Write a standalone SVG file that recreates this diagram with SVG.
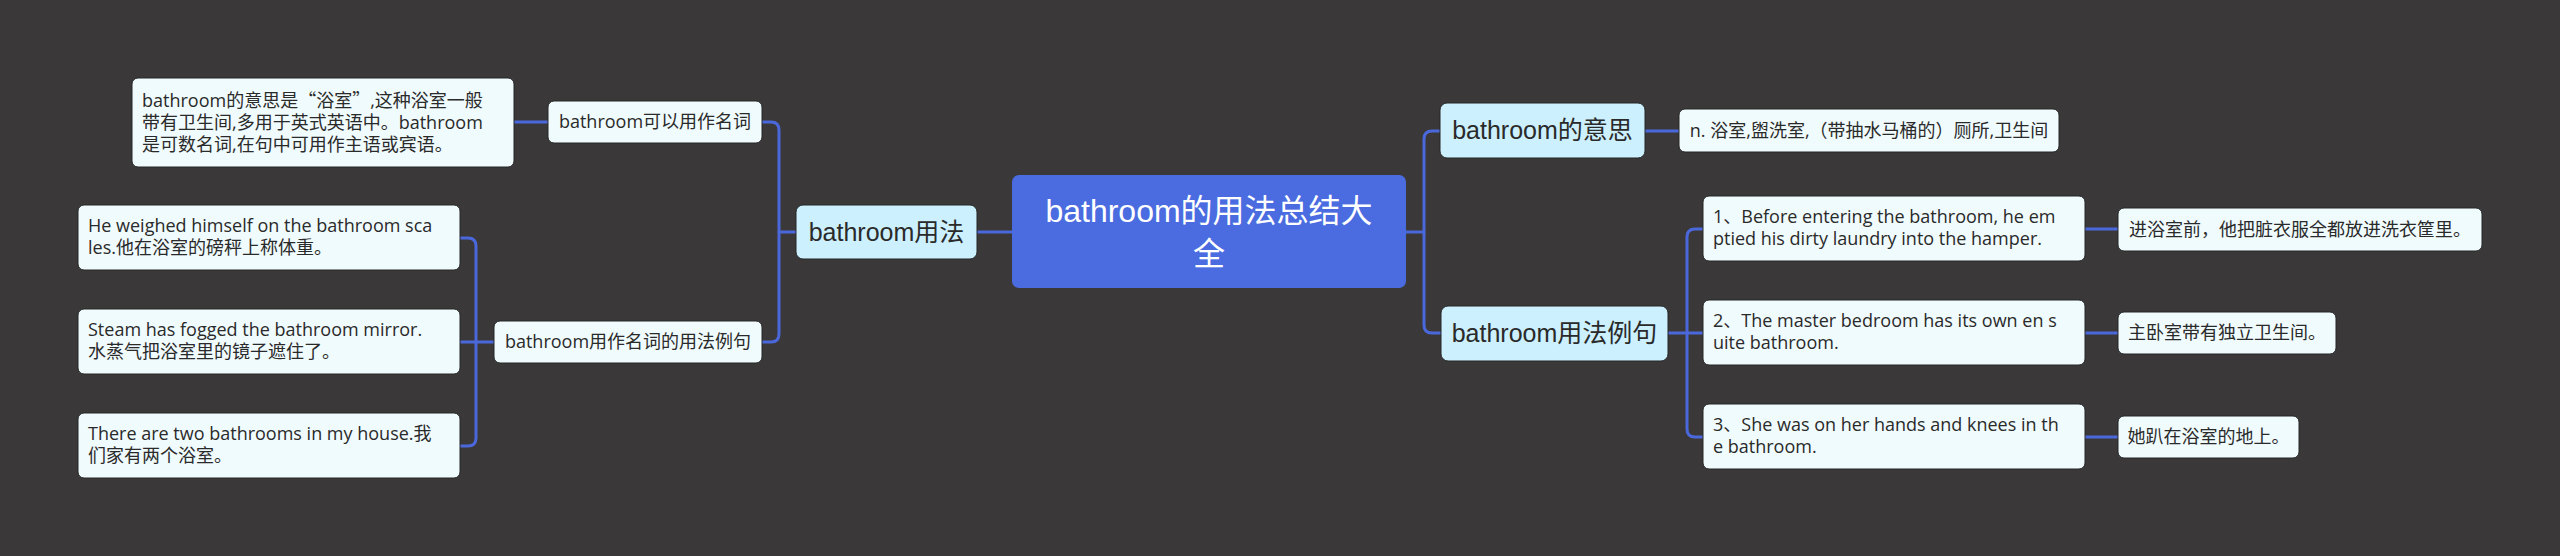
<svg xmlns="http://www.w3.org/2000/svg" width="2560" height="556" viewBox="0 0 2560 556">
<style>
.bg{fill:#3a3839}
.leaf{fill:#f0fbfd;stroke:#262626;stroke-width:1}
.l1{fill:#ccf0fd;stroke:#262626;stroke-width:1}
.root{fill:#4a6ce0}
.conn{fill:none;stroke:#4a68dc;stroke-width:3;stroke-linecap:round;stroke-linejoin:round}
text{font-family:"Liberation Sans","Noto Sans CJK SC",sans-serif;fill:#2a2a2a}
.t18{font-size:18px;font-family:"Open Sans","Noto Sans CJK SC",sans-serif}
.cjk{font-family:"Noto Sans CJK SC",sans-serif}
.t25{font-size:25px}
.t32{font-size:32px;fill:#ffffff}
.mid{text-anchor:middle}
</style>
<rect class="bg" x="0" y="0" width="2560" height="556"/>
<g id="connectors">
<path class="conn" d="M977,232 H1012"/>
<path class="conn" d="M796,232 H779"/>
<path class="conn" d="M762,122 H771 Q779,122 779,130 V334 Q779,342 771,342 H762"/>
<path class="conn" d="M514,122 H548"/>
<path class="conn" d="M494,342 H460"/>
<path class="conn" d="M460,238 H468 Q476,238 476,246 V438 Q476,446 468,446 H460"/>
<path class="conn" d="M1406,232 H1424"/>
<path class="conn" d="M1440,131 H1432 Q1424,131 1424,139 V325 Q1424,333 1432,333 H1441"/>
<path class="conn" d="M1645,131 H1679"/>
<path class="conn" d="M1668,333 H1703"/>
<path class="conn" d="M1703,229 H1695 Q1687,229 1687,237 V429 Q1687,437 1695,437 H1703"/>
<path class="conn" d="M2085,229 H2118"/>
<path class="conn" d="M2085,333 H2118"/>
<path class="conn" d="M2085,437 H2118"/>
</g>
<g id="root">
<rect class="root" x="1012" y="175" width="394" height="113" rx="7"/>
<text class="t32 mid" x="1209" y="222">bathroom的用法总结大</text>
<text class="t32 mid" x="1209" y="265">全</text>
</g>
<g id="usage">
<rect class="l1" x="796" y="205" width="181" height="54" rx="7"/>
<text class="t25 mid" x="886.5" y="241">bathroom用法</text>
</g>
<g id="noun">
<rect class="leaf" x="548" y="101" width="214" height="42" rx="6"/>
<text class="t18 mid" x="655" y="128">bathroom可以用作名词</text>
</g>
<g id="noun-detail">
<rect class="leaf" x="132" y="78" width="382" height="89" rx="6"/>
<text class="t18" x="142" y="107">bathroom的意思是<tspan class="cjk">“</tspan>浴室<tspan class="cjk">”</tspan>,这种浴室一般</text>
<text class="t18" x="142" y="129">带有卫生间,多用于英式英语中。bathroom</text>
<text class="t18" x="142" y="151">是可数名词,在句中可用作主语或宾语。</text>
</g>
<g id="examples">
<rect class="leaf" x="494" y="321" width="268" height="42" rx="6"/>
<text class="t18 mid" x="628" y="348">bathroom用作名词的用法例句</text>
</g>
<g id="ex-1">
<rect class="leaf" x="78" y="205" width="382" height="65" rx="6"/>
<text class="t18" x="88" y="232">He weighed himself on the bathroom sca</text>
<text class="t18" x="88" y="254">les.他在浴室的磅秤上称体重。</text>
</g>
<g id="ex-2">
<rect class="leaf" x="78" y="309" width="382" height="65" rx="6"/>
<text class="t18" x="88" y="336">Steam has fogged the bathroom mirror.</text>
<text class="t18" x="88" y="358">水蒸气把浴室里的镜子遮住了。</text>
</g>
<g id="ex-3">
<rect class="leaf" x="78" y="413" width="382" height="65" rx="6"/>
<text class="t18" x="88" y="440">There are two bathrooms in my house.我</text>
<text class="t18" x="88" y="462">们家有两个浴室。</text>
</g>
<g id="meaning">
<rect class="l1" x="1440" y="103" width="205" height="55" rx="7"/>
<text class="t25 mid" x="1542.5" y="139">bathroom的意思</text>
</g>
<g id="meaning-detail">
<rect class="leaf" x="1679" y="109" width="380" height="43" rx="6"/>
<text class="t18 mid" x="1869" y="137">n. 浴室,盥洗室,（带抽水马桶的）厕所,卫生间</text>
</g>
<g id="sentences">
<rect class="l1" x="1441" y="306" width="227" height="55" rx="7"/>
<text class="t25 mid" x="1554.5" y="342">bathroom用法例句</text>
</g>
<g id="s1">
<rect class="leaf" x="1703" y="196" width="382" height="65" rx="6"/>
<text class="t18" x="1713" y="223">1、Before entering the bathroom, he em</text>
<text class="t18" x="1713" y="245">ptied his dirty laundry into the hamper.</text>
</g>
<g id="s1-zh">
<rect class="leaf" x="2118" y="208" width="364" height="43" rx="6"/>
<text class="t18 mid" x="2300" y="236">进浴室前，他把脏衣服全都放进洗衣筐里。</text>
</g>
<g id="s2">
<rect class="leaf" x="1703" y="300" width="382" height="65" rx="6"/>
<text class="t18" x="1713" y="327">2、The master bedroom has its own en s</text>
<text class="t18" x="1713" y="349">uite bathroom.</text>
</g>
<g id="s2-zh">
<rect class="leaf" x="2118" y="312" width="218" height="42" rx="6"/>
<text class="t18 mid" x="2227" y="339">主卧室带有独立卫生间。</text>
</g>
<g id="s3">
<rect class="leaf" x="1703" y="404" width="382" height="65" rx="6"/>
<text class="t18" x="1713" y="431">3、She was on her hands and knees in th</text>
<text class="t18" x="1713" y="453">e bathroom.</text>
</g>
<g id="s3-zh">
<rect class="leaf" x="2118" y="416" width="181" height="42" rx="6"/>
<text class="t18 mid" x="2208.5" y="443">她趴在浴室的地上。</text>
</g>
</svg>
